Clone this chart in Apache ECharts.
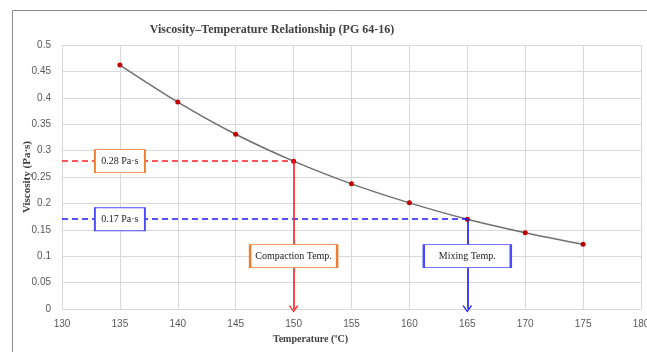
<!DOCTYPE html>
<html>
<head>
<meta charset="utf-8">
<script src="https://cdn.jsdelivr.net/npm/echarts@6/dist/echarts.min.js"></script>
<style>
  html, body { margin: 0; padding: 0; background: #fff; }
  #chart { width: 647px; height: 352px; }
</style>
</head>
<body>
<div id="chart"></div>
<script>
// Viscosity of PG 64-16 binder versus temperature
const temperatures = [135, 140, 145, 150, 155, 160, 165, 170, 175];
const viscosities = [0.462, 0.392, 0.331, 0.28, 0.237, 0.201, 0.17, 0.1445, 0.1225];

// Target viscosities and the temperatures they give
const compactionViscosity = 0.28;
const compactionTemp = 150;
const mixingViscosity = 0.17;
const mixingTemp = 165;

// Where the callout boxes sit (data coordinates)
const viscLabelTemp = 135;
const tempLabelVisc = 0.1;

const xTicks = { min: 130, max: 180, interval: 5 };
const yTicks = { min: 0, max: 0.5, interval: 0.05 };

const RED = '#ff2020';
const BLUE = '#1a1aff';
const ORANGE = '#ed7d31';
const BOX_BLUE = '#4a4aff';
const serif = '"Liberation Serif", "DejaVu Serif", serif';
const sans = '"Liberation Sans", Arial, sans-serif';

// Open chevron arrow head (points up; the mark line turns it along the line)
const chevron = 'path://M0,6 L1.6,6 L5,1.8 L8.4,6 L10,6 L5,0 Z';

const chart = echarts.init(document.getElementById('chart'), null, { renderer: 'canvas' });

function box(text, temp, visc, borderColor) {
  return {
    coord: [temp, visc],
    symbol: 'rect',
    symbolSize: text.length > 10 ? [87, 23] : [50, 23],
    itemStyle: { color: '#ffffff', borderColor: borderColor, borderWidth: 1.3 },
    label: {
      show: true, position: 'inside', formatter: text,
      fontFamily: serif, fontSize: 10, color: '#222'
    }
  };
}

chart.setOption({
  animation: false,
  backgroundColor: '#ffffff',
  title: {
    text: 'Viscosity\u2013Temperature Relationship (PG 64-16)',
    left: 267, top: 19, textAlign: 'center',
    textStyle: { fontFamily: serif, fontSize: 12, fontWeight: 'bold', color: '#404040' }
  },
  graphic: [{
    type: 'rect', z: -1,
    shape: { x: 12.5, y: 10.5, width: 700, height: 400 },
    style: { fill: 'none', stroke: '#8c8c8c', lineWidth: 1 }
  }],
  grid: { left: 62, right: 6, top: 45, bottom: 43, outerBoundsMode: 'none', containLabel: false },
  xAxis: {
    type: 'value', min: xTicks.min, max: xTicks.max, interval: xTicks.interval,
    name: 'Temperature (\u00BAC)', nameLocation: 'middle', nameGap: 25, nameMoveOverlap: false,
    nameTextStyle: { fontFamily: serif, fontSize: 10, fontWeight: 'bold', color: '#404040', padding: [0, 82, 0, 0] },
    axisLine: { show: false }, axisTick: { show: false },
    axisLabel: { fontFamily: sans, fontSize: 10, color: '#595959', margin: 10 },
    splitLine: { show: true, lineStyle: { color: '#d9d9d9', width: 1 } }
  },
  yAxis: {
    type: 'value', min: yTicks.min, max: yTicks.max, interval: yTicks.interval,
    name: 'Viscosity (Pa\u00B7s)', nameLocation: 'middle', nameGap: 29, nameRotate: 90, nameMoveOverlap: false,
    nameTextStyle: { fontFamily: serif, fontSize: 11, fontWeight: 'bold', color: '#404040' },
    axisLine: { show: false }, axisTick: { show: false },
    axisLabel: { fontFamily: sans, fontSize: 10, color: '#595959', margin: 11 },
    splitLine: { show: true, lineStyle: { color: '#d9d9d9', width: 1 } }
  },
  series: [
    {
      type: 'line', z: 2,
      data: [],
      silent: true,
      markLine: {
        silent: true, symbol: 'none', animation: false,
        label: { show: false },
        data: [
          [{ coord: [xTicks.min, compactionViscosity], lineStyle: { color: RED, type: [6, 4], width: 1.6 } },
           { coord: [compactionTemp, compactionViscosity] }],
          [{ coord: [xTicks.min, mixingViscosity], lineStyle: { color: BLUE, type: [6, 4], width: 1.6 } },
           { coord: [mixingTemp, mixingViscosity] }],
          [{ coord: [compactionTemp, compactionViscosity], symbol: 'none', lineStyle: { color: RED, type: 'solid', width: 1.6 } },
           { coord: [compactionTemp, 0], symbol: chevron, symbolSize: [10, 7] }],
          [{ coord: [mixingTemp, mixingViscosity], symbol: 'none', lineStyle: { color: BLUE, type: 'solid', width: 1.6 } },
           { coord: [mixingTemp, 0], symbol: chevron, symbolSize: [10, 7] }]
        ]
      }
    },
    {
      type: 'line', z: 3,
      smooth: 0.3,
      data: temperatures.map((t, i) => [t, viscosities[i]]),
      symbol: 'circle', symbolSize: 5,
      itemStyle: { color: '#c00000' },
      lineStyle: { color: '#707070', width: 1.5 }
    },
    {
      type: 'line', z: 4,
      data: [],
      markPoint: {
        silent: true, animation: false,
        data: [
          box(compactionViscosity.toFixed(2) + ' Pa\u00B7s', viscLabelTemp, compactionViscosity, ORANGE),
          box(mixingViscosity.toFixed(2) + ' Pa\u00B7s', viscLabelTemp, mixingViscosity, BOX_BLUE),
          box('Compaction Temp.', compactionTemp, tempLabelVisc, ORANGE),
          box('Mixing Temp.', mixingTemp, tempLabelVisc, BOX_BLUE)
        ]
      }
    }
  ]
});
</script>
</body>
</html>
